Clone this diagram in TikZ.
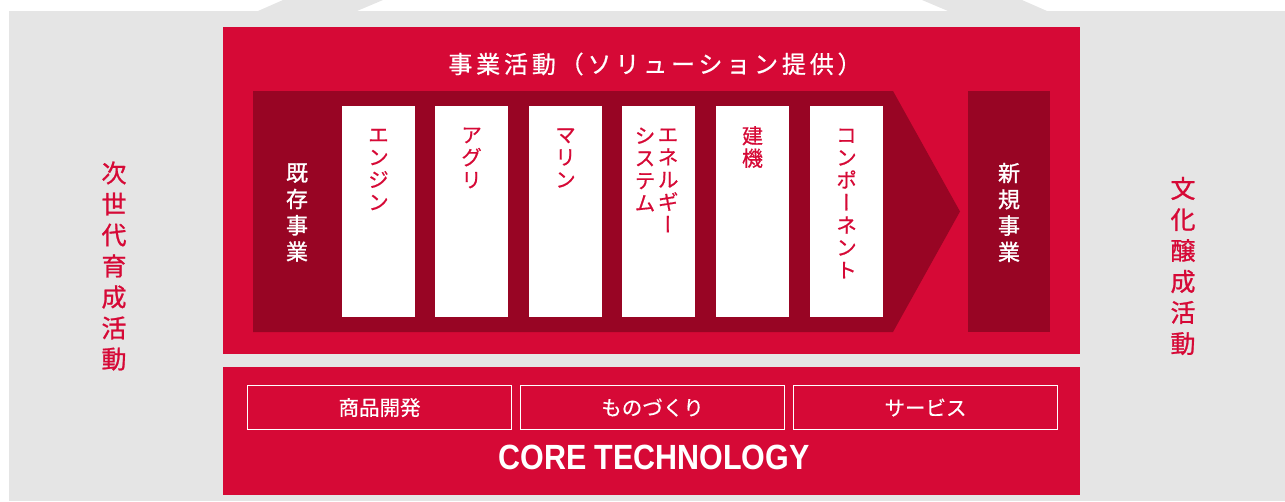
\documentclass[tikz,border=0pt]{standalone}
\usepackage{fontspec}
\usepackage{graphicx}
\newfontfamily\jp[FakeBold=0.4]{Noto Sans CJK JP}
\newfontfamily\jpb[FakeBold=1.2]{Noto Sans CJK JP}
\newfontfamily\jpv[RawFeature=+vert,FakeBold=0.5]{Noto Sans CJK JP}
\newfontfamily\jps[FakeBold=0.9]{Noto Sans CJK JP}
\newfontfamily\jpt[LetterSpace=16,FakeBold=0.6]{Noto Sans CJK JP}
\newfontfamily\corefont{Liberation Sans}
\definecolor{yred}{RGB}{214,9,54}
\definecolor{ydark}{RGB}{152,5,36}
\definecolor{ygray}{RGB}{229,229,229}
\begin{document}
\begin{tikzpicture}[x=1pt,y=-1pt,
  panel/.style={fill=yred, draw=none, inner sep=0pt, anchor=north west},
  whitebox/.style={fill=white, draw=none, inner sep=0pt, anchor=north west, minimum width=73pt, minimum height=211pt},
  darkbox/.style={fill=ydark, draw=none, inner sep=0pt, anchor=north west},
  outlinebox/.style={draw=white, line width=1.1pt, fill=none, inner sep=0pt, anchor=north west, minimum width=264pt, minimum height=44pt},
  boxtext/.style={font=\jpv\fontsize{21}{22.5}\selectfont, text=yred, align=center, inner sep=0pt},
  bigtext/.style={font=\jpb\fontsize{22}{26.3}\selectfont, text=white, align=center, inner sep=0pt},
  sidetext/.style={font=\jps\fontsize{25}{31}\selectfont, text=yred, align=center, inner sep=0pt},
  lowtext/.style={font=\jp\fontsize{20.5}{20.5}\selectfont, text=white, inner sep=0pt}
]
\useasboundingbox (0,0) rectangle (1285,501);
% background house
\fill[ygray] (9,11) rectangle (1285,501);
\fill[ygray] (258,11) -- (357,11) -- (383,0) -- (283,0) -- cycle;
\fill[ygray] (948,11) -- (1047,11) -- (1022,0) -- (922,0) -- cycle;
% panels
\node[panel, minimum width=857pt, minimum height=327pt] (toppanel) at (223,27) {};
\node[panel, minimum width=857pt, minimum height=128pt] (botpanel) at (223,367) {};
% arrow
\fill[ydark] (253,91) -- (893,91) -- (960,211.5) -- (893,332) -- (253,332) -- cycle;
\node[darkbox, minimum width=82pt, minimum height=241pt] (newbiz) at (968,91) {};
% white boxes
\node[whitebox] (b1) at (342,106) {};
\node[whitebox] (b2) at (435,106) {};
\node[whitebox] (b3) at (529,106) {};
\node[whitebox] (b4) at (622,106) {};
\node[whitebox] (b5) at (716,106) {};
\node[whitebox] (b6) at (810,106) {};
% title
\node[text=white, font=\jpt\fontsize{24}{24}\selectfont, inner sep=0pt] (title) at (655,64) {事業活動（ソリューション提供）};
% arrow texts
\node[bigtext] (exist) at (297,212.5) {既\\存\\事\\業};
\node[bigtext] (newt) at (1009,212.5) {新\\規\\事\\業};
\node[boxtext] (t1) at (378.5,169.5) {エ\\ン\\ジ\\ン};
\node[boxtext] (t2) at (471.5,158) {ア\\グ\\リ};
\node[boxtext] (t3) at (565.5,158) {マ\\リ\\ン};
\node[boxtext] (t4a) at (668,180.5) {エ\\ネ\\ル\\ギ\\ー};
\node[boxtext] (t4b) at (645,169.5) {シ\\ス\\テ\\ム};
\node[boxtext] (t5) at (752.5,147) {建\\機};
\node[boxtext] (t6) at (846.5,203.5) {コ\\ン\\ポ\\ー\\ネ\\ン\\ト};
% side texts
\node[sidetext] (leftt) at (114,266) {次\\世\\代\\育\\成\\活\\動};
\node[sidetext] (rightt) at (1183,266) {文\\化\\醸\\成\\活\\動};
% bottom
\node[outlinebox] (c1) at (247,385) {};
\node[outlinebox] (c2) at (520,385) {};
\node[outlinebox] (c3) at (793,385) {};
\node[lowtext] at (c1.center) {商品開発};
\node[lowtext] at (c2.center) {ものづくり};
\node[lowtext] at (c3.center) {サービス};
\node[text=white, font=\corefont\bfseries\fontsize{35}{35}\selectfont, inner sep=0pt] (core) at (654,457.5) {\scalebox{0.87}[1]{CORE TECHNOLOGY}};
\end{tikzpicture}
\end{document}
